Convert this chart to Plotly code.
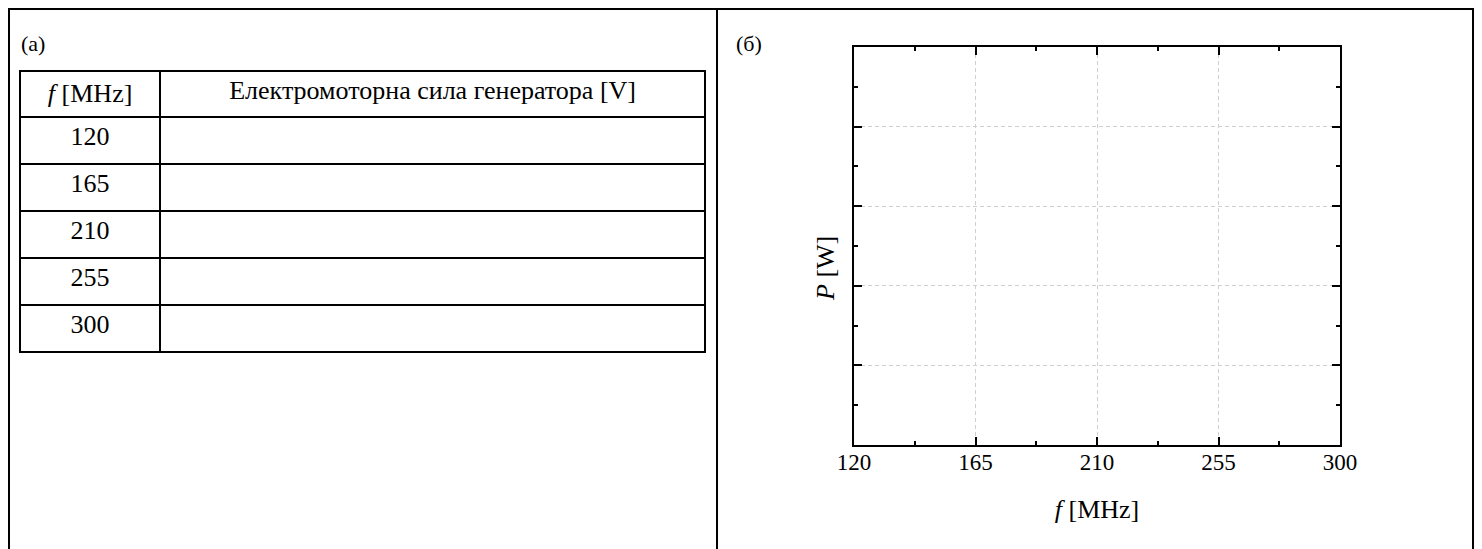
import plotly.graph_objects as go

# ---- data ----
freqs = [120, 165, 210, 255, 300]
emf_values = ["", "", "", "", ""]          # empty column to be filled in
power_values = [None, None, None, None, None]  # no measured power yet
header_labels = ["<i>f</i> [MHz]", "Електромоторна сила генератора [V]"]
x_ticks = [120, 165, 210, 255, 300]
panel_labels = ["(а)", "(б)"]

# figure is placed by the page at (8, 8)
OFF = 8
W, H = 1466, 541
FONT = "Liberation Serif, Times New Roman, serif"

def px(x):
    return (x - OFF) / W

def py(y):
    return 1 - (y - OFF) / H

fig = go.Figure()

fig.add_trace(go.Table(
    domain=dict(x=[px(20), px(705)], y=[py(530), py(71)]),
    columnwidth=[140, 544],
    header=dict(
        values=header_labels,
        align="center",
        height=46,
        line=dict(color="black", width=2),
        fill=dict(color="white"),
        font=dict(family=FONT, size=26, color="black"),
    ),
    cells=dict(
        values=[freqs, emf_values],
        align="center",
        height=47,
        line=dict(color="black", width=2),
        fill=dict(color="white"),
        font=dict(family=FONT, size=26, color="black"),
    ),
))

fig.add_trace(go.Scatter(x=freqs, y=power_values, mode="markers",
                         showlegend=False, xaxis="x", yaxis="y"))

axis_common = dict(
    showline=True, linecolor="black", linewidth=2, mirror="allticks",
    ticks="inside", ticklen=8, tickwidth=1.5, tickcolor="black",
    showgrid=True, gridcolor="#cfcfcf", griddash="4px,3px", gridwidth=1,
    zeroline=False,
    tickfont=dict(family=FONT, size=23, color="black"),
)

fig.update_layout(
    width=W, height=H,
    margin=dict(l=0, r=0, t=0, b=0, autoexpand=False),
    paper_bgcolor="white", plot_bgcolor="white",
    font=dict(family=FONT, color="black"),
    showlegend=False,
    xaxis=dict(
        domain=[px(854), px(1340)], range=[120, 300],
        tickvals=x_ticks, ticktext=[str(v) for v in x_ticks],
        minor=dict(ticks="inside", ticklen=4, dtick=22.5, tick0=120,
                   tickcolor="black", tickwidth=1.5, showgrid=False),
        ticklabelstandoff=-5,
        title=dict(text="<i>f</i> [MHz]", font=dict(family=FONT, size=26),
                   standoff=26),
        anchor="y", automargin=False,
        **axis_common,
    ),
    yaxis=dict(
        domain=[py(445), py(47)], range=[0, 5], dtick=1, tick0=0,
        showticklabels=False,
        minor=dict(ticks="inside", ticklen=4, dtick=0.5, tick0=0,
                   tickcolor="black", tickwidth=1.5, showgrid=False),
        anchor="x", automargin=False,
        **axis_common,
    ),
    annotations=[
        dict(text=panel_labels[0], x=px(19), y=py(43), xref="paper", yref="paper",
             xanchor="left", yanchor="middle", showarrow=False,
             font=dict(family=FONT, size=22)),
        dict(text=panel_labels[1], x=px(734), y=py(43), xref="paper", yref="paper",
             xanchor="left", yanchor="middle", showarrow=False,
             font=dict(family=FONT, size=22)),
        dict(text="<i>P</i> [W]", x=px(825), y=py(269), xref="paper", yref="paper",
             xanchor="center", yanchor="middle", textangle=-90, showarrow=False,
             font=dict(family=FONT, size=26)),
    ],
    shapes=[
        dict(type="line", xref="paper", yref="paper", x0=px(8), x1=px(1474),
             y0=py(9), y1=py(9), line=dict(color="black", width=2)),
        dict(type="line", xref="paper", yref="paper", x0=px(9), x1=px(9),
             y0=py(8), y1=py(560), line=dict(color="black", width=2)),
        dict(type="line", xref="paper", yref="paper", x0=px(717), x1=px(717),
             y0=py(8), y1=py(560), line=dict(color="black", width=2)),
        dict(type="line", xref="paper", yref="paper", x0=px(1473), x1=px(1473),
             y0=py(8), y1=py(560), line=dict(color="black", width=2)),
    ],
)

fig.write_html("out.html")
